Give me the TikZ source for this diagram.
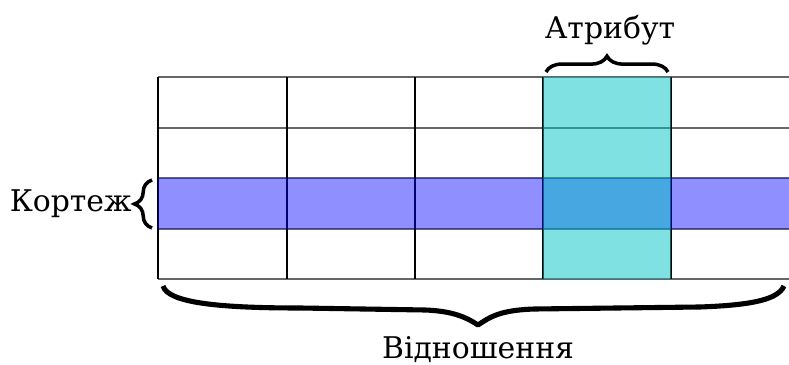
\documentclass[tikz,border=0pt]{standalone}
\usepackage{fontspec}
\setmainfont{DejaVu Serif}
\usetikzlibrary{decorations.pathreplacing,positioning}
\definecolor{attrcol}{RGB}{0,195,195}

\begin{document}
\begin{tikzpicture}[
		x=0.02cm, y=0.02cm,
		every node/.style={font=\fontsize{17}{20}\selectfont, inner sep=0pt},
		hline/.style={draw=black!60, line width=0.6pt},
		vline/.style={draw=black, line width=1.1pt},
		bracesym/.style={decorate, decoration={brace, amplitude=#1}, line width=2pt},
		bigbrace/.style={line width=2.9pt, line join=round}
	]
	\useasboundingbox (0,0) rectangle (789,365);

	% la tabella: righe e colonne
	\foreach \y in {288,237,187,136,86}
		\draw[hline] (158,\y) -- (789,\y);
	\foreach \x in {158,287,415,543,671}
		\draw[vline] (\x,288) -- (\x,86);

	% riga evidenziata e colonna evidenziata
	\fill[blue, fill opacity=0.44] (158,187) rectangle (789,136);
	\fill[attrcol, fill opacity=0.5] (543,288) rectangle (671,86);

	% graffe piccole
	\coordinate (attrL) at (546,293);
	\coordinate (attrR) at (668,293);
	\coordinate (tupB) at (152,137);
	\coordinate (tupT) at (152,185);
	\draw[bracesym=9pt] (attrL) -- (attrR);
	\draw[bracesym=10pt] (tupB) -- (tupT);

	% graffa grande sotto la tabella
	\coordinate (relL) at (163,79);
	\coordinate (relTip) at (478,40);
	\coordinate (relR) at (784,79);
	\draw[bigbrace] (relL) .. controls (168,62) and (220,57) .. (300,57)
		-- (425,55) .. controls (452,54) and (466,48) .. (relTip)
		.. controls (490,48) and (500,55) .. (535,56)
		-- (700,58) .. controls (755,60) and (778,66) .. (relR);

	% etichette
	\node (attr) at (610,335) {Атрибут};
	\node[anchor=east] (tuple) at (132,161) {Кортеж};
	\node (rel) at (478,15) {Відношення};
\end{tikzpicture}
\end{document}
